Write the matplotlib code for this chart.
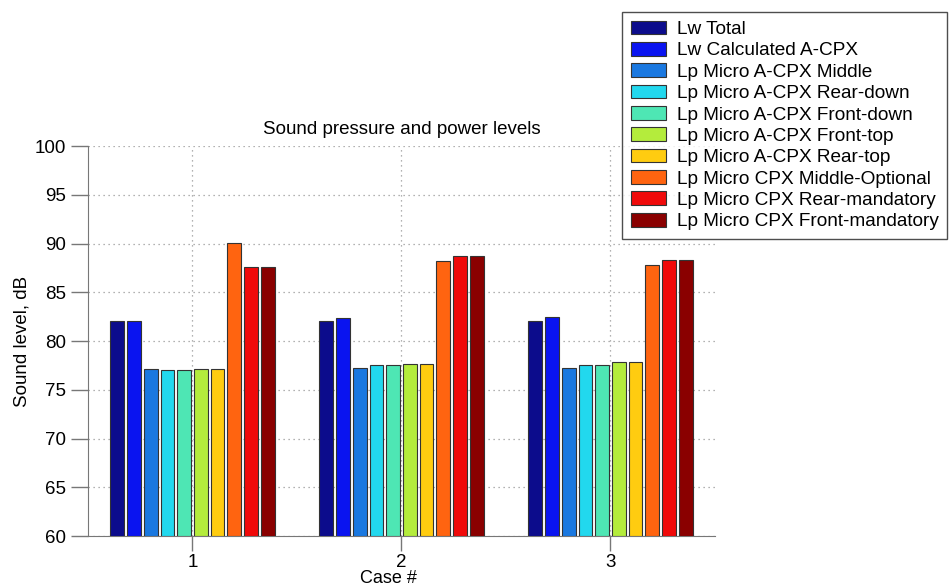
import matplotlib
matplotlib.use("Agg")
import matplotlib.pyplot as plt
import numpy as np

plt.rcParams['font.family'] = ['Liberation Sans', 'DejaVu Sans']

cases = [1, 2, 3]
series_names = [
    "Lw Total",
    "Lw Calculated A-CPX",
    "Lp Micro A-CPX Middle",
    "Lp Micro A-CPX Rear-down",
    "Lp Micro A-CPX Front-down",
    "Lp Micro A-CPX Front-top",
    "Lp Micro A-CPX Rear-top",
    "Lp Micro CPX Middle-Optional",
    "Lp Micro CPX Rear-mandatory",
    "Lp Micro CPX Front-mandatory",
]
lw_total = [82.1, 82.1, 82.1]
lw_calc = [82.1, 82.4, 82.5]
lp_middle = [77.15, 77.25, 77.25]
lp_rear_down = [77.05, 77.55, 77.55]
lp_front_down = [77.05, 77.55, 77.55]
lp_front_top = [77.15, 77.6, 77.85]
lp_rear_top = [77.15, 77.6, 77.85]
lp_mid_opt = [90.1, 88.2, 87.8]
lp_rear_mand = [87.6, 88.75, 88.35]
lp_front_mand = [87.6, 88.75, 88.35]
series = [lw_total, lw_calc, lp_middle, lp_rear_down, lp_front_down,
          lp_front_top, lp_rear_top, lp_mid_opt, lp_rear_mand, lp_front_mand]
colors = ["#0c0c8c", "#0a14f0", "#1a78e0", "#22d8ee", "#4ee6b4",
          "#b4ec3c", "#ffcc10", "#ff6410", "#f00a0a", "#8a0000"]
yticks = [60, 65, 70, 75, 80, 85, 90, 95, 100]

fig = plt.figure(figsize=(9.5, 5.88), dpi=100)
ax = fig.add_axes([0.0926, 0.0884, 0.66, 0.6633])

n = len(series)
slot = 0.8 / n
x = np.array(cases, dtype=float)
for i, (vals, c, name) in enumerate(zip(series, colors, series_names)):
    offs = -0.4 + slot * (i + 0.5)
    ax.bar(x + offs, np.array(vals) - 60, bottom=60, width=slot * 0.82,
           color=c, edgecolor="#333333", linewidth=0.8, label=name, zorder=3)

ax.set_xlim(0.5, 3.5)
ax.set_ylim(60, 100)
ax.set_xticks(cases)
ax.set_yticks(yticks)
ax.tick_params(direction='out', length=12.5, color='#777777', labelsize=13.5, width=1)
ax.tick_params(axis='y', pad=3)
ax.tick_params(axis='x', length=11, pad=2)
ax.grid(True, linestyle=(0, (1, 3)), color='#999999', linewidth=0.9, zorder=0)
for s in ['top', 'right']:
    ax.spines[s].set_visible(False)
for s in ['left', 'bottom']:
    ax.spines[s].set_color('#777777')
ax.set_title("Sound pressure and power levels", fontsize=13.5, pad=9)
ax.set_ylabel("Sound level, dB", fontsize=13.5, labelpad=3)
ax.set_xlabel("Case #", fontsize=13)
ax.xaxis.label.set_va('bottom')
ax.xaxis.set_label_coords(0.48, -0.1295)

leg = fig.legend(loc='upper left', bbox_to_anchor=(0.6547, 0.9796), fontsize=13.7,
                 frameon=True, fancybox=False, edgecolor='#222222',
                 handlelength=1.84, handleheight=0.74, labelspacing=0.2,
                 borderpad=0.45, handletextpad=0.58, borderaxespad=0)
leg.get_frame().set_linewidth(1.0)

fig.savefig("out.png", dpi=100)
